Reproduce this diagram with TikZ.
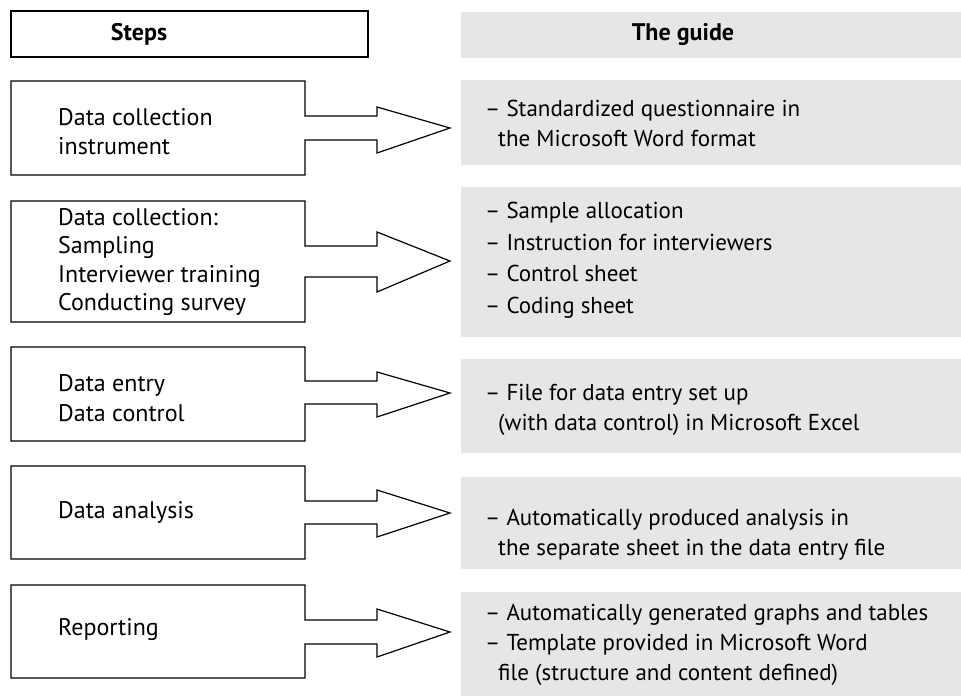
\documentclass[tikz,border=0pt]{standalone}
\usepackage{fontspec}
\setmainfont{PT Sans}
\definecolor{guidegray}{RGB}{230,230,230}
\newcommand{\cont}{\hspace*{13pt}}
\begin{document}
\begin{tikzpicture}[x=1pt,y=-1pt,
    stepline/.style={line width=1.2pt, line join=miter},
    steptext/.style={anchor=west, align=left, inner sep=0pt, font=\fontsize{24}{29}\selectfont},
    guidetext/.style={anchor=west, align=left, inner sep=0pt, font=\fontsize{23}{30}\selectfont},
    headtext/.style={inner sep=0pt, font=\fontsize{24}{29}\selectfont\bfseries}
  ]
    \useasboundingbox (0,0) rectangle (961,696);

    % Kopfzeile
    \draw[stepline] (11,11) rectangle (368,57);
    \node[headtext] (stepshead) at (139,34) {Steps};
    \fill[guidegray] (461,12) rectangle (961,58);
    \node[headtext] (guidehead) at (683,35) {The guide};

    % Schritte mit Blockpfeilen
    \foreach \t/\b/\st/\sb/\ht/\hb/\tip in {
        81/175/116/140/107/153/128,
        201/322/246/277/232/292/261,
        347/441/381/404/372/417/393,
        466/559/501/524/490/537/513,
        585/678/620/644/609/657/632
        } {
        \draw[stepline] (305,\st) -- (305,\t) -- (11,\t) -- (11,\b) -- (305,\b)
            -- (305,\sb) -- (377,\sb) -- (377,\hb) -- (450,\tip) -- (377,\ht)
            -- (377,\st) -- cycle;
    }

    % graue Felder
    \foreach \t/\b in {80/165, 187/337, 359/453, 477/569, 592/696} {
        \fill[guidegray] (461,\t) rectangle (961,\b);
    }

    % Texte links
    \node[steptext] (step1) at (58,132) {Data collection\\instrument};
    \node[steptext, font=\fontsize{24}{28.3}\selectfont] (step2) at (58,262)
        {Data collection:\\Sampling\\Interviewer training\\Conducting survey};
    \node[steptext, font=\fontsize{24}{30}\selectfont] (step3) at (58,398) {Data entry\\Data control};
    \node[steptext] (step4) at (58,512) {Data analysis};
    \node[steptext] (step5) at (58,630) {Reporting};

    % Texte rechts
    \node[guidetext] (guide1) at (485,123)
        {-- Standardized questionnaire in\\\cont the Microsoft Word format};
    \node[guidetext, font=\fontsize{23}{31.5}\selectfont] (guide2) at (485,260)
        {-- Sample allocation\\-- Instruction for interviewers\\-- Control sheet\\-- Coding sheet};
    \node[guidetext] (guide3) at (485,410)
        {-- File for data entry set up\\\cont(with data control) in Microsoft Excel};
    \node[guidetext] (guide4) at (485,535)
        {-- Automatically produced analysis in\\\cont the separate sheet in the data entry file};
    \node[guidetext] (guide5) at (485,645)
        {-- Automatically generated graphs and tables\\-- Template provided in Microsoft Word\\\cont file (structure and content defined)};
\end{tikzpicture}
\end{document}
